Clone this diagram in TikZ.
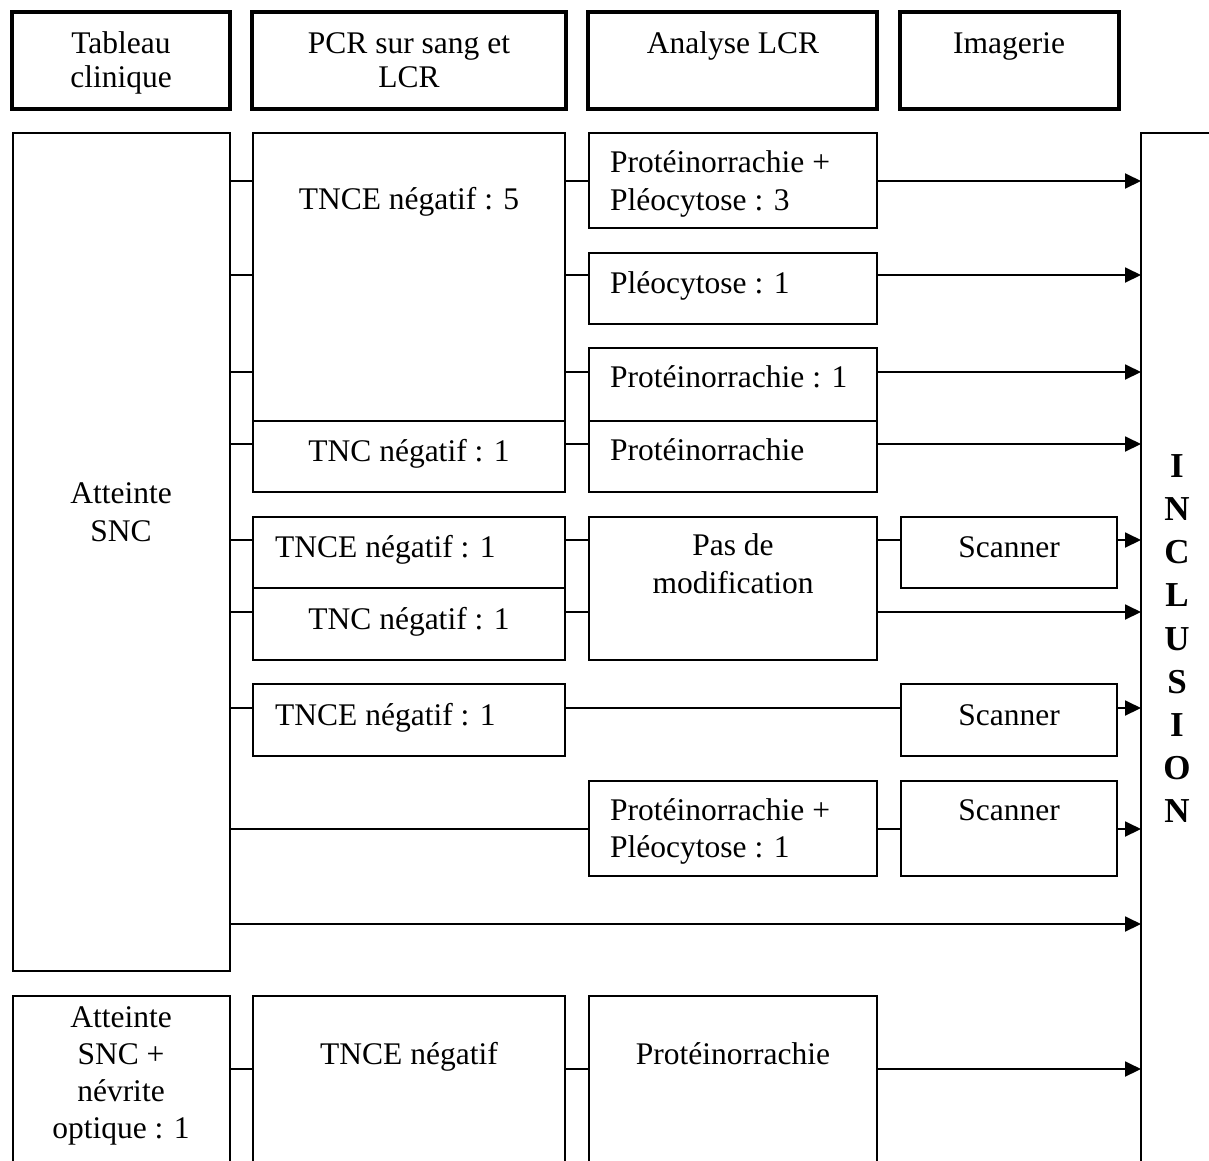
\documentclass[tikz,border=0pt]{standalone}
\usepackage{fontspec}
\setmainfont{Liberation Serif}
\usetikzlibrary{arrows.meta}
\begin{document}
\begin{tikzpicture}[x=1pt,y=-1pt,
  bx/.style={draw, line width=1.9pt, inner sep=0pt, outer sep=0pt, anchor=north west},
  hd/.style={bx, line width=3.4pt},
  tc/.style={anchor=base, inner sep=0pt, font=\fontsize{31.5}{38}\selectfont},
  tl/.style={tc, anchor=base west},
  ln/.style={line width=1.9pt},
  ar/.style={ln, -{Triangle[length=16pt,width=15pt]}},
  lt/.style={anchor=base, inner sep=0pt, font=\fontsize{35}{43}\selectfont\bfseries}]
\useasboundingbox (0,0) rectangle (1209,1160);
\clip (0,0) rectangle (1209,1160);

% headers
\node[hd, minimum width=218pt, minimum height=97pt] (h1) at (12,12) {};
\node[hd, minimum width=314pt, minimum height=97pt] (h2) at (252,12) {};
\node[hd, minimum width=289pt, minimum height=97pt] (h3) at (588,12) {};
\node[hd, minimum width=219pt, minimum height=97pt] (h4) at (900,12) {};
\node[tc] (h1a) at (121,53) {Tableau};
\node[tc] (h1b) at (121,87) {clinique};
\node[tc] (h2a) at (409,53) {PCR sur sang et};
\node[tc] (h2b) at (409,87) {LCR};
\node[tc] (h3a) at (733,53) {Analyse LCR};
\node[tc] (h4a) at (1009,53) {Imagerie};

% row coordinates
\coordinate (r1) at (0,181);
\coordinate (r2) at (0,275);
\coordinate (r3) at (0,372);
\coordinate (r4) at (0,444);
\coordinate (r5) at (0,540);
\coordinate (r6) at (0,612);
\coordinate (r7) at (0,708);
\coordinate (r8) at (0,829);
\coordinate (r9) at (0,924);
\coordinate (r10) at (0,1069);

% column 1
\node[bx, minimum width=217pt, minimum height=838pt] (snc) at (13,133) {};
\node[tc] (snca) at (121,503) {Atteinte};
\node[tc] (sncb) at (121,541) {SNC};

% column 2
\node[bx, minimum width=312pt, minimum height=288pt] (b1) at (253,133) {};
\node[bx, minimum width=312pt, minimum height=71pt] (b4) at (253,421) {};
\node[bx, minimum width=312pt, minimum height=71pt] (b5) at (253,517) {};
\node[bx, minimum width=312pt, minimum height=72pt] (b6) at (253,588) {};
\node[bx, minimum width=312pt, minimum height=72pt] (b7) at (253,684) {};
\node[tc] (b1t) at (409,209) {TNCE négatif : 5};
\node[tc] (b4t) at (409,461) {TNC négatif : 1};
\node[tl] (b5t) at (275,557) {TNCE négatif : 1};
\node[tc] (b6t) at (409,629) {TNC négatif : 1};
\node[tl] (b7t) at (275,725) {TNCE négatif : 1};

% column 3
\node[bx, minimum width=288pt, minimum height=95pt] (c1) at (589,133) {};
\node[bx, minimum width=288pt, minimum height=71pt] (c2) at (589,253) {};
\node[bx, minimum width=288pt, minimum height=73pt] (c3) at (589,348) {};
\node[bx, minimum width=288pt, minimum height=71pt] (c4) at (589,421) {};
\node[bx, minimum width=288pt, minimum height=143pt] (c5) at (589,517) {};
\node[bx, minimum width=288pt, minimum height=95pt] (c8) at (589,781) {};
\node[tl] (c1a) at (610,172) {Protéinorrachie +};
\node[tl] (c1b) at (610,210) {Pléocytose : 3};
\node[tl] (c2t) at (610,293) {Pléocytose : 1};
\node[tl] (c3t) at (610,387) {Protéinorrachie : 1};
\node[tl] (c4t) at (610,460) {Protéinorrachie};
\node[tc] (c5a) at (733,555) {Pas de};
\node[tc] (c5b) at (733,593) {modification};
\node[tl] (c8a) at (610,820) {Protéinorrachie +};
\node[tl] (c8b) at (610,857) {Pléocytose : 1};

% column 4
\node[bx, minimum width=216pt, minimum height=71pt] (s1) at (901,517) {};
\node[bx, minimum width=216pt, minimum height=72pt] (s2) at (901,684) {};
\node[bx, minimum width=216pt, minimum height=95pt] (s3) at (901,781) {};
\node[tc] (s1t) at (1009,557) {Scanner};
\node[tc] (s2t) at (1009,725) {Scanner};
\node[tc] (s3t) at (1009,820) {Scanner};

% inclusion
\node[bx, minimum width=120pt, minimum height=1100pt] (incl) at (1141,133) {};
\foreach \l [count=\k from 0] in {I,N,C,L,U,S,I,O,N}
  \node[lt] (l\k) at (1177,477.3+43.2*\k) {\l};

% bottom row
\node[bx, minimum width=217pt, minimum height=250pt] (a2) at (13,996) {};
\node[bx, minimum width=312pt, minimum height=250pt] (b2) at (253,996) {};
\node[bx, minimum width=288pt, minimum height=250pt] (c2b) at (589,996) {};
\node[tc] (a2a) at (121,1027) {Atteinte};
\node[tc] (a2b) at (121,1064) {SNC +};
\node[tc] (a2c) at (121,1101.5) {névrite};
\node[tc] (a2d) at (121,1138.5) {optique : 1};
\node[tc] (b2t) at (409,1064) {TNCE négatif};
\node[tc] (c2bt) at (733,1064) {Protéinorrachie};

% connectors
\draw[ln] (snc.east |- r1) -- (b1.west |- r1);
\draw[ln] (b1.east |- r1) -- (c1.west |- r1);
\draw[ar] (c1.east |- r1) -- (incl.west |- r1);

\draw[ln] (snc.east |- r2) -- (b1.west |- r2);
\draw[ln] (b1.east |- r2) -- (c2.west |- r2);
\draw[ar] (c2.east |- r2) -- (incl.west |- r2);

\draw[ln] (snc.east |- r3) -- (b1.west |- r3);
\draw[ln] (b1.east |- r3) -- (c3.west |- r3);
\draw[ar] (c3.east |- r3) -- (incl.west |- r3);

\draw[ln] (snc.east |- r4) -- (b4.west |- r4);
\draw[ln] (b4.east |- r4) -- (c4.west |- r4);
\draw[ar] (c4.east |- r4) -- (incl.west |- r4);

\draw[ln] (snc.east |- r5) -- (b5.west |- r5);
\draw[ln] (b5.east |- r5) -- (c5.west |- r5);
\draw[ln] (c5.east |- r5) -- (s1.west |- r5);
\draw[ar] (s1.east |- r5) -- (incl.west |- r5);

\draw[ln] (snc.east |- r6) -- (b6.west |- r6);
\draw[ln] (b6.east |- r6) -- (c5.west |- r6);
\draw[ar] (c5.east |- r6) -- (incl.west |- r6);

\draw[ln] (snc.east |- r7) -- (b7.west |- r7);
\draw[ln] (b7.east |- r7) -- (s2.west |- r7);
\draw[ar] (s2.east |- r7) -- (incl.west |- r7);

\draw[ln] (snc.east |- r8) -- (c8.west |- r8);
\draw[ln] (c8.east |- r8) -- (s3.west |- r8);
\draw[ar] (s3.east |- r8) -- (incl.west |- r8);

\draw[ar] (snc.east |- r9) -- (incl.west |- r9);

\draw[ln] (a2.east |- r10) -- (b2.west |- r10);
\draw[ln] (b2.east |- r10) -- (c2b.west |- r10);
\draw[ar] (c2b.east |- r10) -- (incl.west |- r10);
\end{tikzpicture}
\end{document}
